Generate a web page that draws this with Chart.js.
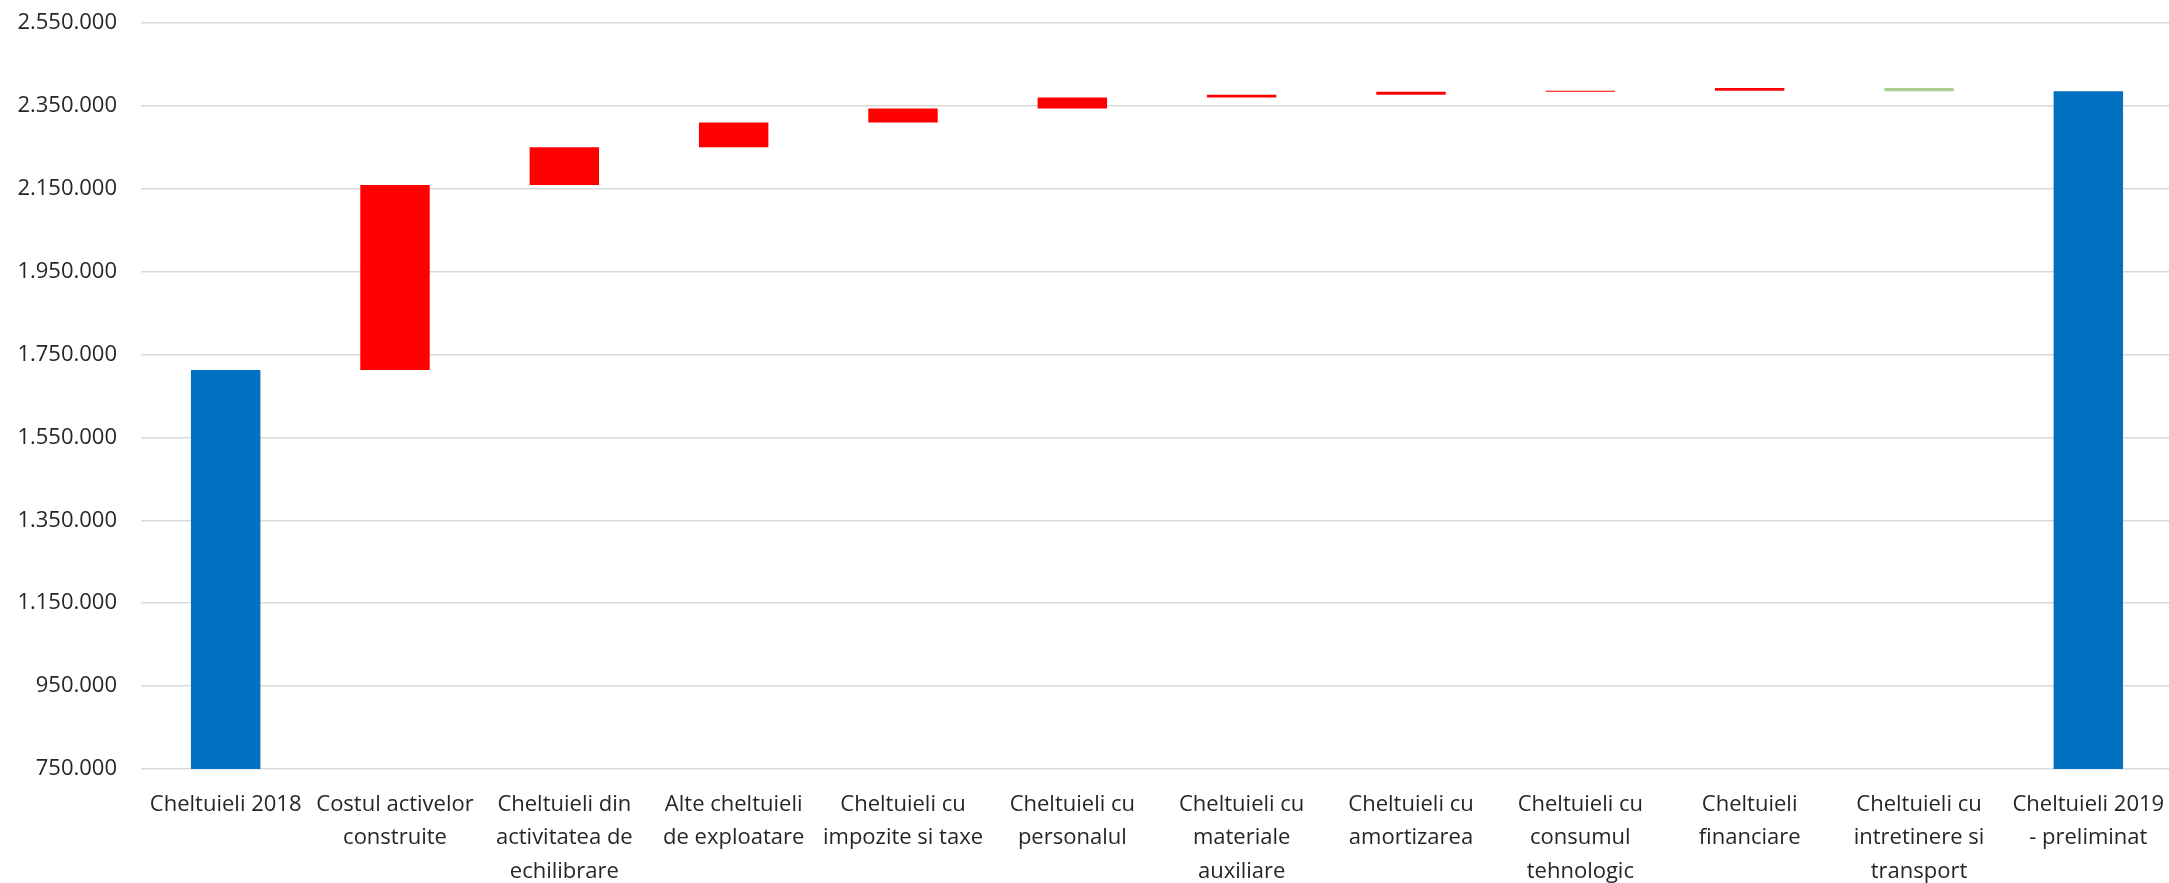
<!DOCTYPE html>
<html>
<head>
<meta charset="utf-8">
<script src="https://cdn.jsdelivr.net/npm/chart.js@4/dist/chart.umd.min.js"></script>
<style>
    html, body { margin: 0; padding: 0; background: #fff; overflow: hidden; }
    #wrap { width: 2173px; height: 883px; }
</style>
</head>
<body>
<div id="wrap"><canvas id="myChart"></canvas></div>
<script>
    // categories (multi-line, as wrapped in the original)
    var categories = [
        ['Cheltuieli 2018'],
        ['Costul activelor', 'construite'],
        ['Cheltuieli din', 'activitatea de', 'echilibrare'],
        ['Alte cheltuieli', 'de exploatare'],
        ['Cheltuieli cu', 'impozite si taxe'],
        ['Cheltuieli cu', 'personalul'],
        ['Cheltuieli cu', 'materiale', 'auxiliare'],
        ['Cheltuieli cu', 'amortizarea'],
        ['Cheltuieli cu', 'consumul', 'tehnologic'],
        ['Cheltuieli', 'financiare'],
        ['Cheltuieli cu', 'intretinere si', 'transport'],
        ['Cheltuieli 2019', '- preliminat']
    ];
    var total2018 = 1713000;
    var changes = [446000, 91000, 60000, 34000, 26000, 7000, 7000, 2500, 6500, -7500];
    var total2019 = 2385500;
    var yTicks = [750000, 950000, 1150000, 1350000, 1550000, 1750000, 1950000, 2150000, 2350000, 2550000];

    var totalColor = '#0070C0';
    var upColor = '#FF0000';
    var downColor = '#A9D18E';

    // floating bars for the waterfall
    var ranges = [[yTicks[0], total2018]];
    var colors = [totalColor];
    var running = total2018;
    changes.forEach(function (c) {
        ranges.push([running, running + c]);
        colors.push(c >= 0 ? upColor : downColor);
        running += c;
    });
    ranges.push([yTicks[0], total2019]);
    colors.push(totalColor);

    function fmt(v) {
        return String(v).replace(/\B(?=(\d{3})+(?!\d))/g, '.');
    }

    var ctx = document.getElementById('myChart');
    var myChart = new Chart(ctx, {
        type: 'bar',
        data: {
            labels: categories,
            datasets: [{
                data: ranges,
                backgroundColor: colors,
                borderWidth: 0,
                barPercentage: 0.41,
                categoryPercentage: 1
            }]
        },
        options: {
            responsive: true,
            maintainAspectRatio: false,
            animation: false,
            layout: {padding: {top: 23, right: 0, bottom: 0, left: 0}},
            plugins: {
                legend: {display: false},
                tooltip: {enabled: false}
            },
            scales: {
                x: {
                    grid: {display: false},
                    border: {display: false},
                    ticks: {
                        color: '#262626',
                        font: {family: 'Open Sans', size: 22, lineHeight: 1.52},
                        maxRotation: 0,
                        autoSkip: false,
                        padding: 11
                    },
                    afterFit: function (scale) {
                        scale.height = 114;
                        scale.paddingRight = 0;
                    }
                },
                y: {
                    min: 750000,
                    max: 2550000,
                    afterBuildTicks: function (scale) {
                        scale.ticks = yTicks.map(function (v) { return {value: v}; });
                    },
                    grid: {color: '#d9d9d9', lineWidth: 1.5, drawTicks: false},
                    border: {display: false},
                    ticks: {
                        color: '#262626',
                        font: {family: 'Open Sans', size: 22},
                        padding: 24,
                        callback: function (v) { return fmt(v); }
                    },
                    afterFit: function (scale) {
                        scale.width = 141;
                        scale.paddingTop = 0;
                    }
                }
            }
        }
    });
</script>
</body>
</html>
